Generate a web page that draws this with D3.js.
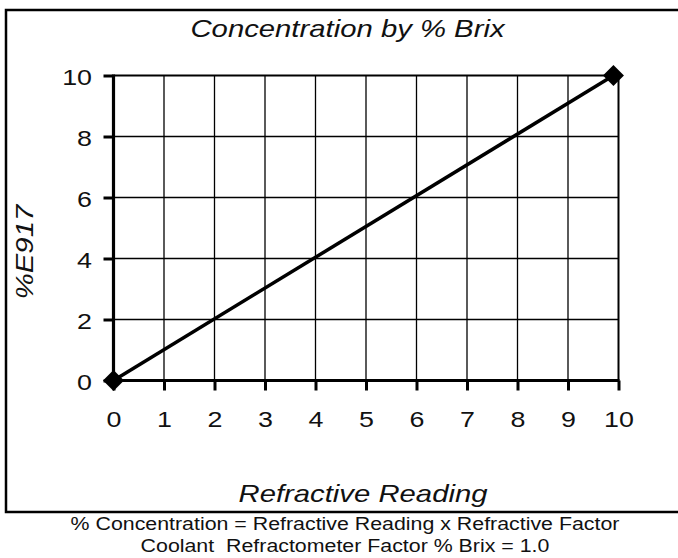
<!DOCTYPE html>
<html>
<head>
<meta charset="utf-8">
<script src="https://cdn.jsdelivr.net/npm/d3@7"></script>
<style>
  body { margin: 0; background: #fff; }
</style>
</head>
<body>
<div class="chart_area"></div>
<script>
// data
var readings = [0, 9.9];
var concentration = [0, 10];
var xTicks = [0, 1, 2, 3, 4, 5, 6, 7, 8, 9, 10];
var yTicks = [0, 2, 4, 6, 8, 10];
var titleText = "Concentration by % Brix";
var xLabelText = "Refractive Reading";
var yLabelText = "%E917";
var footerLines = ["% Concentration = Refractive Reading x Refractive Factor",
                   "Coolant  Refractometer Factor % Brix = 1.0"];

var W = 678, H = 558;
var margin = { top: 75.5, left: 113.5 },
    width = 505,
    height = 305;

var svg = d3.select(".chart_area")
    .append("svg")
    .attr("width", W)
    .attr("height", H);

// outer frame (right edge runs off the page)
svg.append("rect")
    .attr("x", 6).attr("y", 10)
    .attr("width", 720).attr("height", 502)
    .attr("fill", "none")
    .style("stroke", "black")
    .style("stroke-width", 2.5);

var g = svg.append("g")
    .attr("transform", "translate(" + margin.left + "," + margin.top + ")");

var x = d3.scaleLinear().domain([0, 10]).range([0, width]);
var y = d3.scaleLinear().domain([0, 10]).range([height, 0]);

var sans = "'Liberation Sans', Arial, sans-serif";
var K = 1.22; // the original glyphs are stretched sideways

function stretch(sel, k) {
    sel.each(function() {
        var w = this.getComputedTextLength();
        d3.select(this)
            .attr("textLength", w * k)
            .attr("lengthAdjust", "spacingAndGlyphs");
    });
}

// grid
g.append("g")
    .selectAll("line")
    .data(xTicks.slice(1))
    .enter()
    .append("line")
    .attr("x1", function(d) { return x(d); })
    .attr("x2", function(d) { return x(d); })
    .attr("y1", y(10))
    .attr("y2", y(0))
    .style("stroke", "black")
    .style("stroke-width", function(d) { return d == 10 ? 2 : 1.3; });

g.append("g")
    .selectAll("line")
    .data(yTicks.slice(1))
    .enter()
    .append("line")
    .attr("x1", x(0))
    .attr("x2", x(10))
    .attr("y1", function(d) { return y(d); })
    .attr("y2", function(d) { return y(d); })
    .style("stroke", "black")
    .style("stroke-width", function(d) { return d == 10 ? 2 : 1.3; });

// axes
var xAxis = g.append("g")
    .attr("transform", "translate(0," + height + ")")
    .call(d3.axisBottom(x).tickValues(xTicks).tickSize(10));

var yAxis = g.append("g")
    .call(d3.axisLeft(y).tickValues(yTicks).tickSize(10).tickPadding(11.5));

[xAxis, yAxis].forEach(function(a) {
    a.select(".domain").remove();
    a.selectAll(".tick line").style("stroke", "black").style("stroke-width", 3);
    a.selectAll(".tick text")
        .style("font-family", sans)
        .style("font-size", "22px")
        .attr("fill", "#111");
});
xAxis.selectAll(".tick text").attr("y", 46.5).attr("dy", 0).call(stretch, K);
yAxis.selectAll(".tick text").attr("dy", "0.4em").call(stretch, K);

g.append("line")
    .attr("x1", x(0)).attr("x2", x(0))
    .attr("y1", y(10) - 1).attr("y2", y(0) + 1.5)
    .style("stroke", "black").style("stroke-width", 3.2);
g.append("line")
    .attr("x1", x(0)).attr("x2", x(10) + 1)
    .attr("y1", y(0)).attr("y2", y(0))
    .style("stroke", "black").style("stroke-width", 3.2);

// series
var pts = readings.map(function(r, i) { return [r, concentration[i]]; });

g.append("path")
    .datum(pts)
    .attr("fill", "none")
    .attr("d", d3.line().x(function(d) { return x(d[0]); }).y(function(d) { return y(d[1]); }))
    .style("stroke", "black")
    .style("stroke-width", 3.5);

g.append("g")
    .selectAll("path")
    .data(pts)
    .enter()
    .append("path")
    .attr("transform", function(d) { return "translate(" + x(d[0]) + "," + y(d[1]) + ") rotate(45)"; })
    .attr("d", d3.symbol().type(d3.symbolSquare).size(220))
    .attr("fill", "black");

// titles
svg.append("text")
    .attr("x", 347.5).attr("y", 37)
    .attr("text-anchor", "middle")
    .attr("fill", "#111")
    .style("font-family", sans).style("font-style", "italic").style("font-size", "24px")
    .text(titleText)
    .call(stretch, K);

svg.append("text")
    .attr("x", 363).attr("y", 502)
    .attr("text-anchor", "middle")
    .attr("fill", "#111")
    .style("font-family", sans).style("font-style", "italic").style("font-size", "24px")
    .text(xLabelText)
    .call(stretch, K);

svg.append("text")
    .attr("transform", "translate(33,252) rotate(-90)")
    .attr("text-anchor", "middle")
    .attr("fill", "#111")
    .style("font-family", sans).style("font-style", "italic").style("font-size", "24px")
    .text(yLabelText)
    .call(stretch, K);

// note under the frame
svg.append("g")
    .selectAll("text")
    .data(footerLines)
    .enter()
    .append("text")
    .attr("x", 345)
    .attr("y", function(d, i) { return 530 + i * 22; })
    .attr("text-anchor", "middle")
    .attr("fill", "#111")
    .style("white-space", "pre")
    .style("font-family", sans).style("font-size", "17.5px")
    .text(function(d) { return d; })
    .call(stretch, K);
</script>
</body>
</html>
